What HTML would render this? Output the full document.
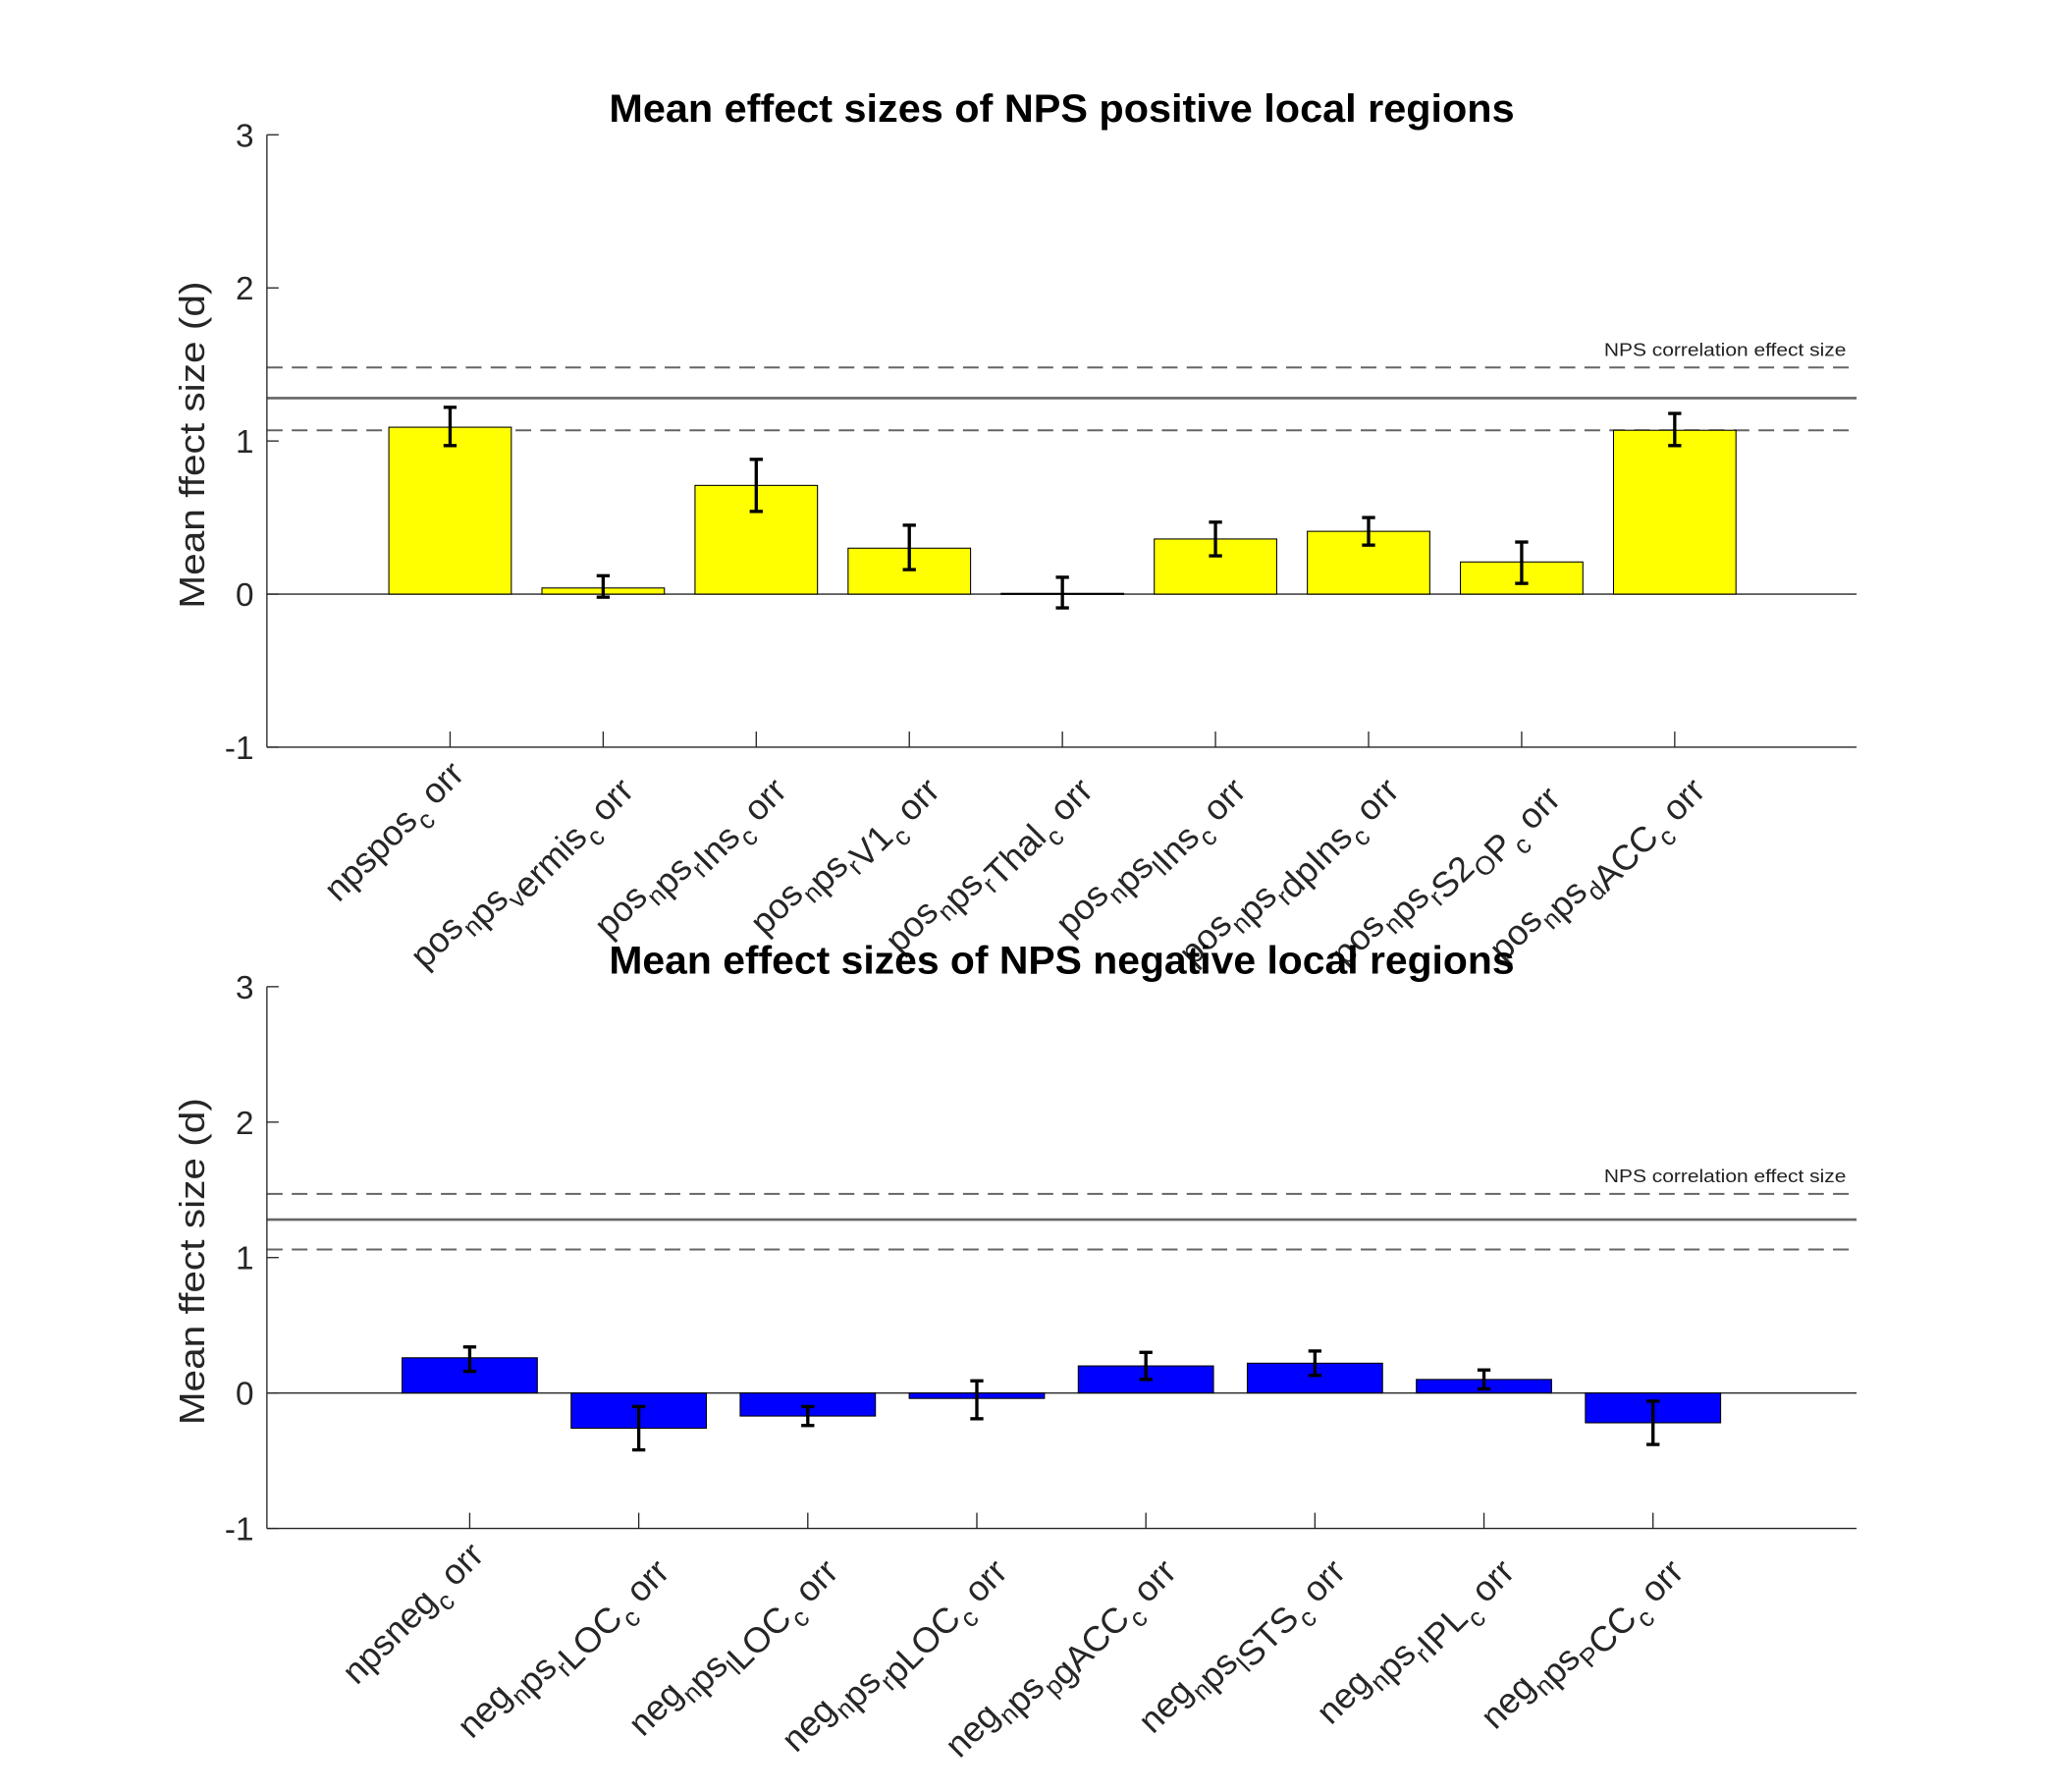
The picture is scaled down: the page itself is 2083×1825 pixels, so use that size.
<!DOCTYPE html>
<html><head><meta charset="utf-8"><style>
html,body{margin:0;padding:0;background:#fff;}
svg{display:block;}
text{font-family:"Liberation Sans",sans-serif;}
</style></head><body>
<svg id="fig" width="2083" height="1825" viewBox="0 0 1563 1369.4" xmlns="http://www.w3.org/2000/svg">
<rect width="1563" height="1369.4" fill="#fff"/>
</svg>
<script>
const posLabels = ["npspos_corr","pos_nps_vermis_corr","pos_nps_rIns_corr","pos_nps_rV1_corr","pos_nps_rThal_corr","pos_nps_lIns_corr","pos_nps_rdpIns_corr","pos_nps_rS2_OP_corr","pos_nps_dACC_corr"];
const posValues = [1.09, 0.04, 0.71, 0.30, 0.005, 0.36, 0.41, 0.21, 1.07];
const posErrLow = [0.97, -0.02, 0.54, 0.16, -0.09, 0.25, 0.32, 0.07, 0.97];
const posErrHigh = [1.22, 0.12, 0.88, 0.45, 0.11, 0.47, 0.50, 0.34, 1.18];
const negLabels = ["npsneg_corr","neg_nps_rLOC_corr","neg_nps_lLOC_corr","neg_nps_rpLOC_corr","neg_nps_pgACC_corr","neg_nps_lSTS_corr","neg_nps_rIPL_corr","neg_nps_PCC_corr"];
const negValues = [0.26, -0.26, -0.17, -0.04, 0.20, 0.22, 0.10, -0.22];
const negErrLow = [0.16, -0.42, -0.24, -0.19, 0.10, 0.13, 0.03, -0.38];
const negErrHigh = [0.34, -0.10, -0.10, 0.09, 0.30, 0.31, 0.17, -0.06];
const refSolid = [1.28, 1.28];
const refDashLow = [1.07, 1.06];
const refDashHigh = [1.48, 1.47];
const yTicks = [-1, 0, 1, 2, 3];
const titles = ["Mean effect sizes of NPS positive local regions","Mean effect sizes of NPS negative local regions"];

const NS = "http://www.w3.org/2000/svg";
const svg = document.getElementById('fig');
function mk(tag, attrs, parent){const e=document.createElementNS(NS,tag);for(const k in attrs)e.setAttribute(k,attrs[k]);(parent||svg).appendChild(e);return e;}

function panel(idx, labels, vals, lo, hi, color, box, namePrefix){
  const g = mk('g',{});
  
  
  const L=box.left,R=box.right,T=box.top,B=box.bottom;
  const y = v => B - (v - (-1)) * (B - T) / 4;
  const n = labels.length;
  const x = i => box.x1 + i * box.dx;
  const bw = box.dx * 0.8;
  const sl = mk('line',{x1:L,x2:R,y1:y(refSolid[idx]),y2:y(refSolid[idx]),stroke:'#666',"stroke-width":2},g);
  
  
  [refDashLow[idx],refDashHigh[idx]].forEach(v=>{
    const dl = mk('line',{x1:L,x2:R,y1:y(v),y2:y(v),stroke:'#666',"stroke-width":1.5,"stroke-dasharray":"12,7"},g);
    
    
  });
  const nt = mk('text',{x:1411,y:y(refDashHigh[idx])-9,"font-size":14,"text-anchor":"end",fill:'#222',textLength:185,lengthAdjust:'spacingAndGlyphs'},g);
  nt.textContent='NPS correlation effect size';
  
  
  mk('line',{x1:L,x2:R,y1:y(0),y2:y(0),stroke:'#262626',"stroke-width":1},g);
  for(let i=0;i<n;i++){
    const v=vals[i];
    const r = mk('rect',{x:x(i)-bw/2,y:Math.min(y(v),y(0)),width:bw,height:Math.max(Math.abs(y(v)-y(0)),0.8),fill:color,stroke:'#000',"stroke-width":0.8},g);
    
    
    const eb = mk('g',{stroke:'#000',"stroke-width":2.5},g);
    
    
    mk('line',{x1:x(i),x2:x(i),y1:y(lo[i]),y2:y(hi[i])},eb);
    mk('line',{x1:x(i)-5,x2:x(i)+5,y1:y(lo[i]),y2:y(lo[i])},eb);
    mk('line',{x1:x(i)-5,x2:x(i)+5,y1:y(hi[i]),y2:y(hi[i])},eb);
  }
  mk('line',{x1:L,x2:L,y1:T,y2:B,stroke:'#262626',"stroke-width":1},g);
  mk('line',{x1:L,x2:R,y1:B,y2:B,stroke:'#262626',"stroke-width":1},g);
  yTicks.forEach(t=>{
    mk('line',{x1:L,x2:L+9,y1:y(t),y2:y(t),stroke:'#262626',"stroke-width":1},g);
    const tl = mk('text',{x:L-10,y:y(t)+9,"font-size":25,"text-anchor":"end",fill:'#262626'},g);
    tl.textContent = t;
    
    
  });
  for(let i=0;i<n;i++){
    mk('line',{x1:x(i),x2:x(i),y1:B,y2:B-12,stroke:'#262626',"stroke-width":1},g);
    const ax=x(i)+12, ay=B+22;
    const t = mk('text',{x:ax,y:ay,"font-size":27,"text-anchor":"end",fill:'#262626',transform:`rotate(-45 ${ax} ${ay})`},g);
    
    
    const s = labels[i];
    let buf='';
    for(let k=0;k<s.length;k++){
      if(s[k]==='_' && k+1<s.length){
        if(buf){const a=mk('tspan',{},t);a.textContent=buf;buf='';}
        const sub=mk('tspan',{dy:9,"font-size":20},t);sub.textContent=s[k+1];
        const sp=mk('tspan',{dy:-9},t);sp.textContent=(s.slice(k+2)==='orr')?' ':'';
        k++;
      } else buf+=s[k];
    }
    if(buf){const a=mk('tspan',{},t);a.textContent=buf;}
  }
  const yl = mk('text',{x:0,y:0,"font-size":27,"text-anchor":"middle",fill:'#262626',textLength:250,lengthAdjust:'spacingAndGlyphs',transform:`translate(156 ${(T+B)/2 + 3}) rotate(-90)`},g);
  yl.textContent='Mean ffect size (d)';
  
  
  const tt = mk('text',{x:(L+R)/2,y:T-10,"font-size":30,"font-weight":"bold","text-anchor":"middle",fill:'#000',textLength:692,lengthAdjust:'spacingAndGlyphs'},g);
  tt.textContent=titles[idx];
  
  
}
panel(0,posLabels,posValues,posErrLow,posErrHigh,'#ffff00',{left:204,right:1419,top:103,bottom:571,x1:344,dx:117},'positive');
panel(1,negLabels,negValues,negErrLow,negErrHigh,'#0000ff',{left:204,right:1419,top:754,bottom:1168,x1:359,dx:129.2},'negative');
</script>
</body></html>
